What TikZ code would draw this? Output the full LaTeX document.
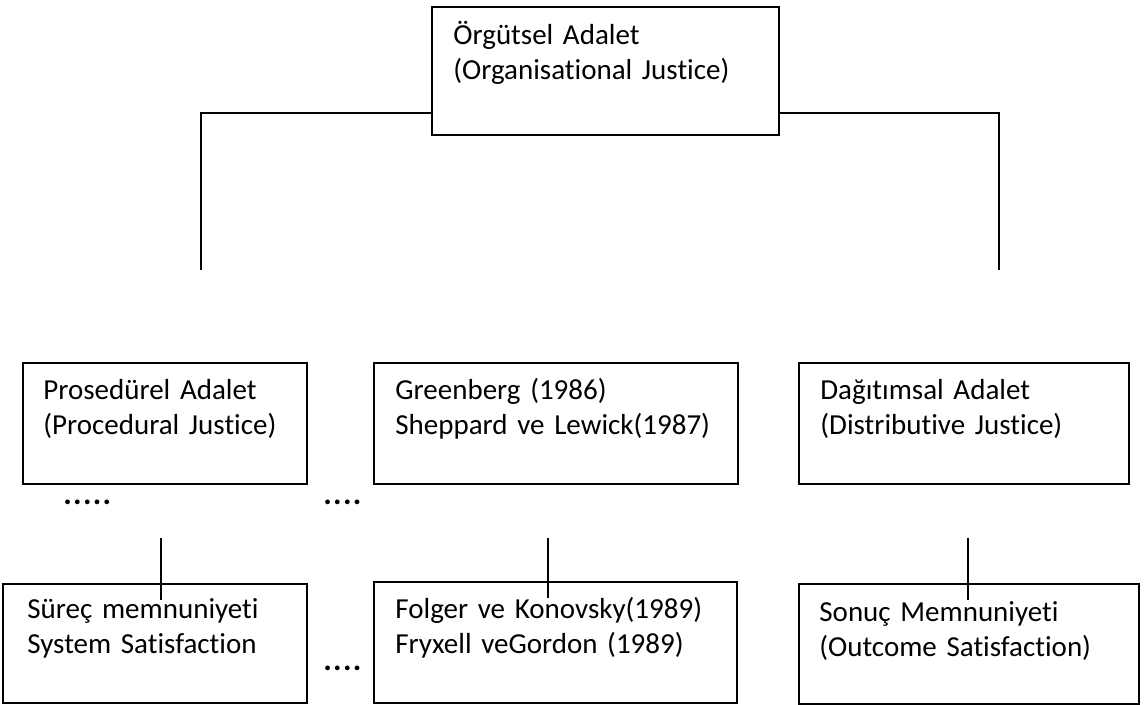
\documentclass[tikz,border=0pt]{standalone}
\usepackage{fontspec}
\setmainfont{Carlito}[Ligatures=NoCommon]
\tikzset{
  box/.style={draw, line width=1pt, anchor=north west, inner sep=0pt},
  boxtext/.style={anchor=base west, inner sep=0pt, text width=180pt, align=left,
    font=\fontsize{14.5}{17.5}\selectfont},
  link/.style={line width=0.8pt},
  dotrow/.style={anchor=base west, inner sep=0pt,
    font=\fontsize{16}{18}\selectfont\bfseries\addfontfeatures{LetterSpace=4}}
}

\begin{document}
\begin{tikzpicture}[x=0.5pt, y=-0.5pt]
  \useasboundingbox (0,0) rectangle (1147,705);
  % top
  \node[box, minimum width=173.5pt, minimum height=64pt] (org) at (431,6) {};
  \node[boxtext] (orgtext) at ([xshift=11pt,yshift=-19.5pt]org.north west) {Örgütsel Adalet\\(Organisational Justice)};
  \coordinate (ltip) at (200.7,270);
  \coordinate (rtip) at (999,270);
  \draw[link] ([yshift=11.5pt]org.south west) -| (ltip);
  \draw[link] ([yshift=11.5pt]org.south east) -| (rtip);
  % middle row
  \node[box, minimum width=142pt, minimum height=60.5pt] (proc) at (22,362) {};
  \node[boxtext] (proctext) at ([xshift=10.5pt,yshift=-19pt]proc.north west) {Prosedürel Adalet\\(Procedural Justice)};
  \node[box, minimum width=182pt, minimum height=60.5pt] (green) at (373,362) {};
  \node[boxtext] (greentext) at ([xshift=11pt,yshift=-19pt]green.north west) {Greenberg (1986)\\Sheppard ve Lewick(1987)};
  \node[box, minimum width=165pt, minimum height=60.5pt] (dist) at (798,362) {};
  \node[boxtext] (disttext) at ([xshift=11pt,yshift=-19pt]dist.north west) {Dağıtımsal Adalet\\(Distributive Justice)};
  \node[dotrow] (dotsa) at (63,505) {.....};
  \node[dotrow] (dotsb) at (323,505) {....};
  % bottom row
  \node[box, minimum width=152pt, minimum height=59.5pt] (surec) at (2,583) {};
  \node[boxtext] (surectext) at ([xshift=12.5pt,yshift=-17.5pt]surec.north west) {Süreç memnuniyeti\\System Satisfaction};
  \node[box, minimum width=181.5pt, minimum height=60.5pt] (folger) at (373,581) {};
  \node[boxtext] (folgertext) at ([xshift=11pt,yshift=-18.5pt]folger.north west) {Folger ve Konovsky(1989)\\Fryxell veGordon (1989)};
  \node[box, minimum width=170pt, minimum height=60pt] (sonuc) at (798,583) {};
  \node[boxtext] (sonuctext) at ([xshift=10.5pt,yshift=-19.5pt]sonuc.north west) {Sonuç Memnuniyeti\\(Outcome Satisfaction)};
  \node[dotrow] (dotsc) at (323,670) {....};
  \coordinate (surtop) at (161,538);
  \coordinate (folgertop) at (548,538);
  \coordinate (sonuctop) at (968,538);
  \draw[link] (surtop) -- ([yshift=-8.5pt]surtop |- surec.north);
  \draw[link] (folgertop) -- ([yshift=-8.5pt]folgertop |- folger.north);
  \draw[link] (sonuctop) -- ([yshift=-8.5pt]sonuctop |- sonuc.north);
\end{tikzpicture}
\end{document}
